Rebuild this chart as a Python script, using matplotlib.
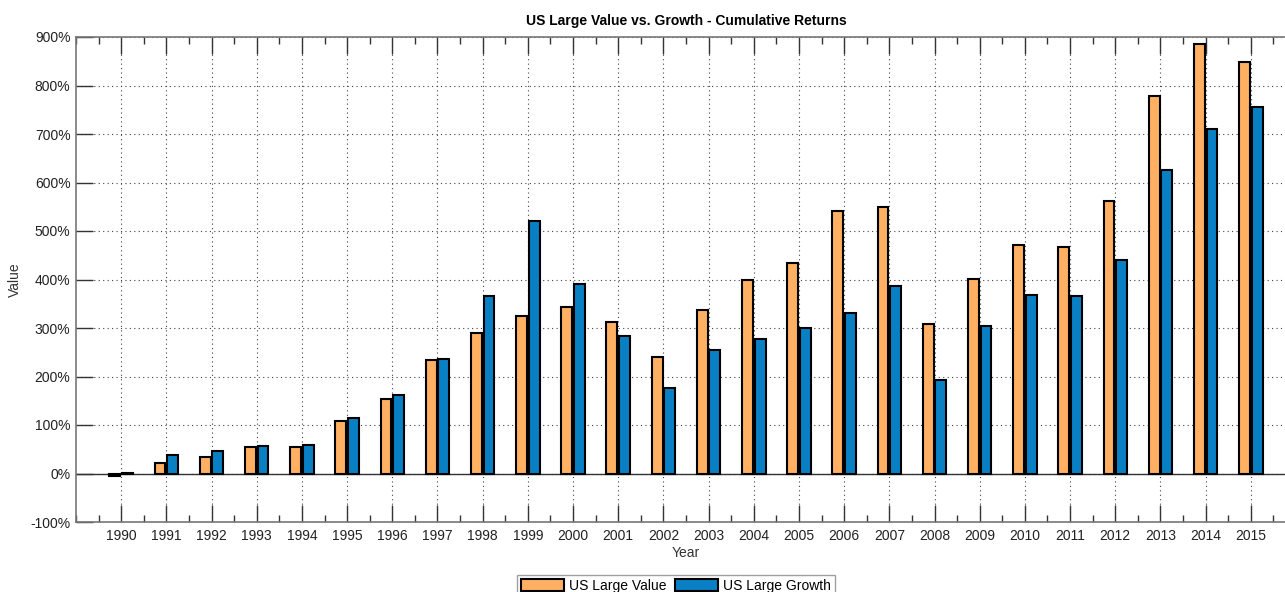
"""Grouped bar chart: US large value vs. growth cumulative returns."""

import matplotlib
import matplotlib.pyplot as plt
import numpy as np
from matplotlib.ticker import FuncFormatter, MultipleLocator

matplotlib.use("Agg")

# ------------------------------------------------------------------ #
# Data (cumulative return, %)
# ------------------------------------------------------------------ #

YEARS = list(range(1990, 2016))

VALUE = [
    -6, 22, 35, 55, 55, 109, 153, 233, 289, 325,
    344, 312, 240, 337, 400, 434, 541, 549, 309, 401,
    472, 467, 561, 779, 886, 848,
]

GROWTH = [
    1, 38, 47, 57, 58, 114, 162, 237, 365, 521,
    390, 283, 176, 254, 278, 301, 330, 387, 193, 304,
    369, 367, 440, 625, 711, 756,
]

SERIES = ["US Large Value", "US Large Growth"]

ORANGE = "#FFB062"
BLUE = "#0A80C4"

plt.rcParams["font.family"] = ["Liberation Sans", "DejaVu Sans"]
plt.rcParams["font.size"] = 10


def main() -> None:
    fig = plt.figure(figsize=(12.85, 5.92), dpi=100)
    ax = fig.add_axes([76 / 1285, 70 / 592, 1220 / 1285, 485 / 592])

    x = np.array(YEARS, dtype=float)
    width = 0.24
    ax.bar(x - 0.14, VALUE, width, color=ORANGE, edgecolor="black",
           linewidth=1.5, label=SERIES[0], zorder=3)
    ax.bar(x + 0.14, GROWTH, width, color=BLUE, edgecolor="black",
           linewidth=1.5, label=SERIES[1], zorder=3)
    ax.axhline(0, color="#333333", linewidth=1.0, zorder=2)

    ax.set_xlim(1989, 2016)
    ax.set_ylim(-100, 900)
    ax.set_xticks(YEARS)
    ax.xaxis.set_minor_locator(MultipleLocator(0.5))
    ax.yaxis.set_major_locator(MultipleLocator(100))
    ax.yaxis.set_major_formatter(FuncFormatter(lambda v, _: f"{v:.0f}%"))

    ax.tick_params(axis="both", which="major", direction="in", length=12,
                   width=1, color="#333333", labelcolor="#222222", labelsize=10)
    ax.tick_params(axis="x", which="major", top=True, pad=5)
    ax.tick_params(axis="x", which="minor", direction="in", length=5,
                   width=1, color="#333333", top=True)
    ax.tick_params(axis="y", which="major", right=False, pad=4)

    for side in ["left", "top", "bottom"]:
        ax.spines[side].set_color("#777777")
        ax.spines[side].set_linewidth(1.2)
    ax.spines["right"].set_visible(False)

    ax.grid(True, which="major", linestyle=(0, (1, 3)), color="#444444",
            linewidth=0.8, zorder=0)
    ax.set_axisbelow(True)

    ax.set_title("US Large Value vs. Growth - Cumulative Returns",
                 fontsize=10, fontweight="bold", pad=9)
    ax.set_xlabel("Year", color="#333333", labelpad=2)
    ax.set_ylabel("Value", color="#333333", labelpad=6)

    handles, labels = ax.get_legend_handles_labels()
    leg = fig.legend(handles, labels, loc="upper center",
                     bbox_to_anchor=(676 / 1285, 1 - 568 / 592), ncol=2,
                     frameon=True, fancybox=False, handlelength=3.1,
                     handleheight=0.95, handletextpad=0.35,
                     columnspacing=0.6, borderpad=0.3, fontsize=10)
    leg.get_frame().set_edgecolor("#888888")
    leg.get_frame().set_linewidth(1.0)

    fig.savefig("out.png", dpi=100)
    plt.close(fig)


if __name__ == "__main__":
    main()
